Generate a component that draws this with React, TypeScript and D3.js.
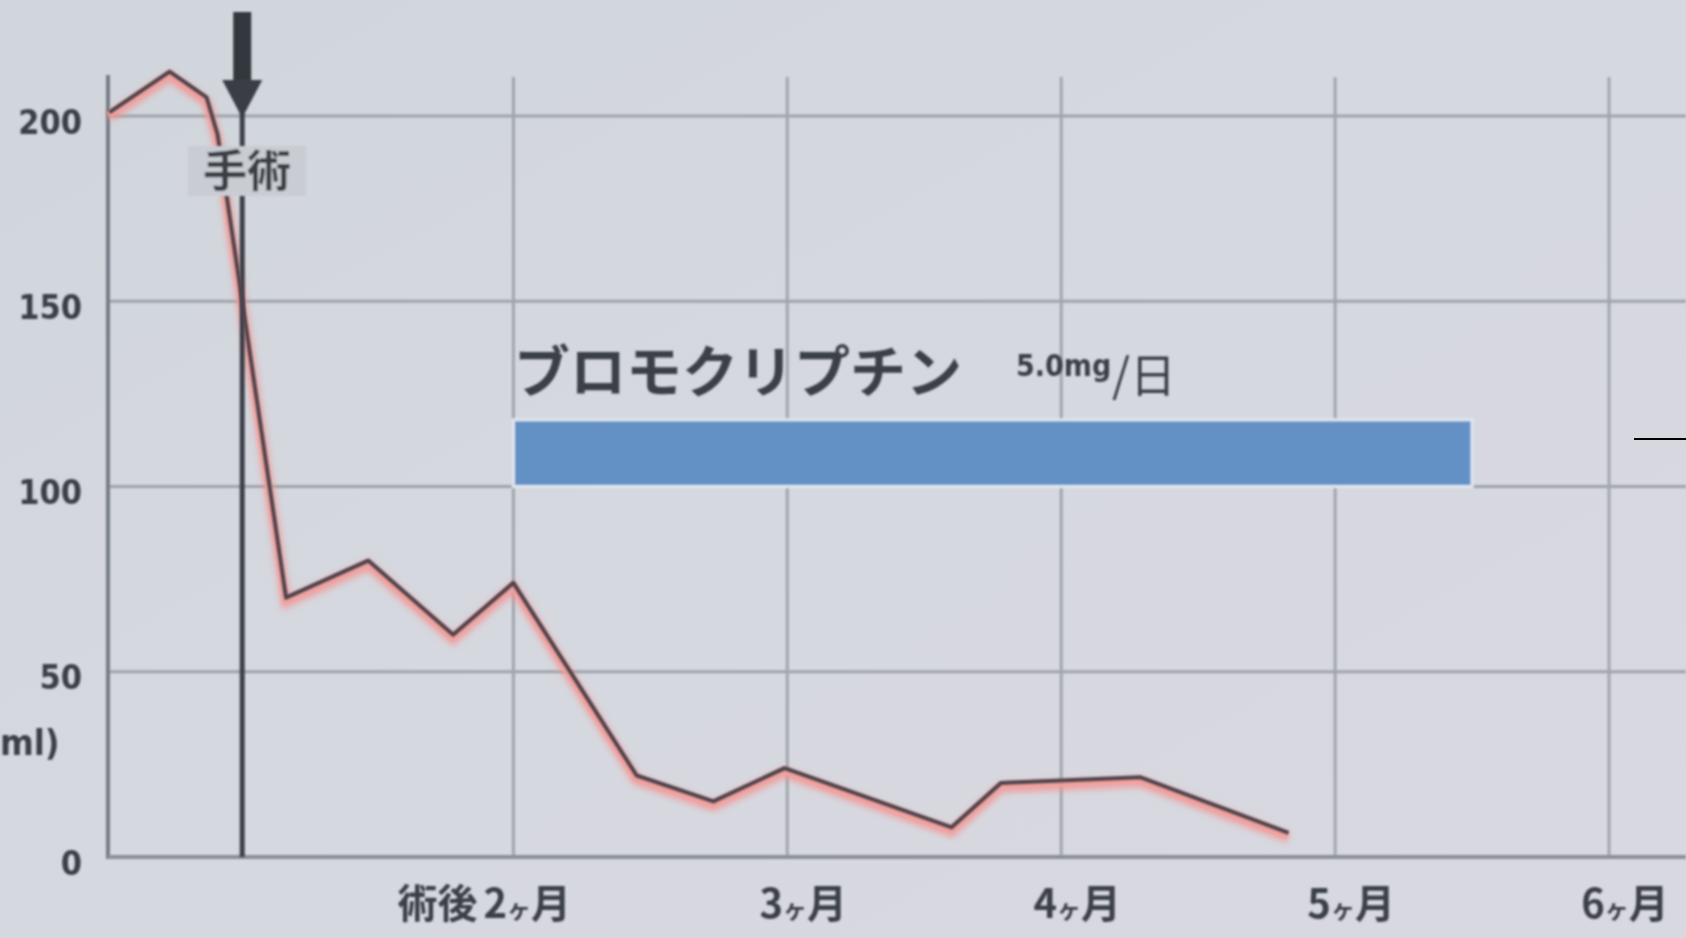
import React from "react";
import * as d3 from "d3";

// Data (months on x, ng/ml on y)
const months = [0.525, 0.745, 0.88, 0.92, 1.17, 1.47, 1.78, 2.0, 2.45, 2.73, 2.99, 3.6, 3.78, 4.29, 4.83];
const values = [201, 212, 205, 195, 70, 80, 60, 74, 22, 15, 24, 8, 20, 21.5, 6.5];
const yTicks = [0, 50, 100, 150, 200];
const xTicks = [2, 3, 4, 5, 6];
const xTickLabels = ["2", "3", "4", "5", "6"];
const xTickPrefix = ["術後", "", "", "", ""];
const surgeryMonth = 1.01;
const drugStart = 2;
const drugEnd = 5.5;
const drugLow = 100;
const drugHigh = 118;

const W = 1686;
const H = 938;

export default function App() {
  const x = d3.scaleLinear().domain([0.52, 6.27]).range([108, 1683]);
  const y = d3.scaleLinear().domain([0, 200]).range([857, 116]);
  const pts: [number, number][] = months.map((m, i) => [m, values[i]]);
  const line = d3
    .line<[number, number]>()
    .x((d) => x(d[0]))
    .y((d) => y(d[1]));
  const path = line(pts) || "";
  const sx = x(surgeryMonth);
  const jp = "'Noto Sans CJK JP', 'Noto Sans', sans-serif";
  const cond = "'DejaVu Sans Condensed', 'Liberation Sans Narrow', 'DejaVu Sans', sans-serif";
  const textCol = "#3b3f46";

  return (
    <svg
      width={W}
      height={H}
      style={{ position: "absolute", left: 0, top: 0, display: "block" }}
    >
      <defs>
        <filter id="blur1" x="-5%" y="-5%" width="110%" height="110%">
          <feGaussianBlur stdDeviation="1.2" />
        </filter>
        <filter id="blur2" x="-5%" y="-5%" width="110%" height="110%">
          <feGaussianBlur stdDeviation="3" />
        </filter>
        <linearGradient id="bg" x1="0" y1="0" x2="1" y2="1">
          <stop offset="0" stopColor="#d0d6dc" />
          <stop offset="0.5" stopColor="#d6d8df" />
          <stop offset="1" stopColor="#d8d8e0" />
        </linearGradient>
      </defs>
      <rect x={0} y={0} width={W} height={H} fill="url(#bg)" />

      <g filter="url(#blur1)">
        {/* horizontal gridlines */}
        {yTicks
          .filter((t) => t > 0)
          .map((t) => (
            <line key={"h" + t} x1={x.range()[0]} x2={W} y1={y(t)} y2={y(t)} stroke="#9ea3ab" strokeWidth={3} />
          ))}
        {/* vertical gridlines */}
        {xTicks.map((t) => (
          <line key={"v" + t} x1={x(t)} x2={x(t)} y1={77} y2={y(0)} stroke="#a0a5ad" strokeWidth={3} />
        ))}
        {/* axes */}
        <line x1={x.range()[0]} x2={x.range()[0]} y1={75} y2={y(0) + 2} stroke="#767c85" strokeWidth={4} />
        <line x1={x.range()[0]} x2={W} y1={y(0)} y2={y(0)} stroke="#8a8f98" strokeWidth={4} />

        {/* drug bar */}
        <rect
          x={x(drugStart)}
          y={y(drugHigh)}
          width={x(drugEnd) - x(drugStart)}
          height={y(drugLow) - y(drugHigh)}
          fill="#6391c6"
          stroke="#dfe6f0"
          strokeWidth={3}
        />
      </g>

      {/* data line glow */}
      <path d={path} fill="none" stroke="#f2928f" strokeWidth={10} opacity={0.75} transform="translate(0,5)" filter="url(#blur2)" />
      <path d={path} fill="none" stroke="#f4a09c" strokeWidth={6} opacity={0.85} transform="translate(-1,3)" filter="url(#blur1)" />

      {/* surgery line & arrow */}
      <g filter="url(#blur1)">
        <line x1={sx} x2={sx} y1={110} y2={y(0)} stroke="#3d4149" strokeWidth={5} />
        <rect x={sx - 9} y={12} width={18} height={70} fill="#33373e" />
        <path d={`M${sx - 20},80 L${sx + 20},80 L${sx},118 Z`} fill="#3a3e45" />
      </g>

      {/* data line */}
      <path d={path} fill="none" stroke="#4d434b" strokeWidth={4} strokeLinejoin="round" filter="url(#blur1)" />

      {/* surgery label */}
      <g filter="url(#blur1)">
        <rect x={188} y={146} width={118} height={50} fill="#c9cdd3" />
        <text x={247} y={187} textAnchor="middle" fontFamily={jp} fontSize={44} fontWeight={700} fill={textCol}>
          手術
        </text>
      </g>

      {/* y tick labels */}
      <g filter="url(#blur1)">
        {yTicks.map((t) => (
          <text
            key={"yl" + t}
            x={82}
            y={y(t) + 8}
            textAnchor="end"
            dominantBaseline="middle"
            fontFamily={cond}
            fontSize={34}
            fontWeight={700}
            fill={textCol}
          >
            {t}
          </text>
        ))}
        <text x={0} y={755} fontFamily={cond} fontSize={36} fontWeight={700} fill={textCol}>
          ml)
        </text>

        {/* x tick labels */}
        {xTicks.map((t, i) => (
          <text
            key={"xl" + t}
            x={i === 0 ? x(t) - 116 : x(t) + 16}
            y={918}
            textAnchor={i === 0 ? "start" : "middle"}
            fontFamily={jp}
            fontSize={40}
            fontWeight={700}
            fill={textCol}
          >
            {xTickPrefix[i] ? <tspan>{xTickPrefix[i]}</tspan> : null}
            {xTickPrefix[i] ? <tspan dx={6}>{xTickLabels[i]}</tspan> : <tspan>{xTickLabels[i]}</tspan>}
            <tspan fontSize={24}>ヶ</tspan>
            <tspan>月</tspan>
          </text>
        ))}

        {/* drug label */}
        <text x={514} y={392} fontFamily={jp} fontSize={56} fontWeight={600} fill={textCol}>
          ブロモクリプチン
        </text>
        <text x={1016} y={376} fontFamily={cond} fontSize={30} fontWeight={700} fill={textCol}>
          5.0mg
        </text>
        <text x={1112} y={392} fontFamily={jp} fontSize={46} fontWeight={400} fill={textCol}>
          /日
        </text>
      </g>

      {/* small black mark at right edge */}
      <line x1={1634} x2={W} y1={439} y2={439} stroke="#000" strokeWidth={2} />
    </svg>
  );
}
